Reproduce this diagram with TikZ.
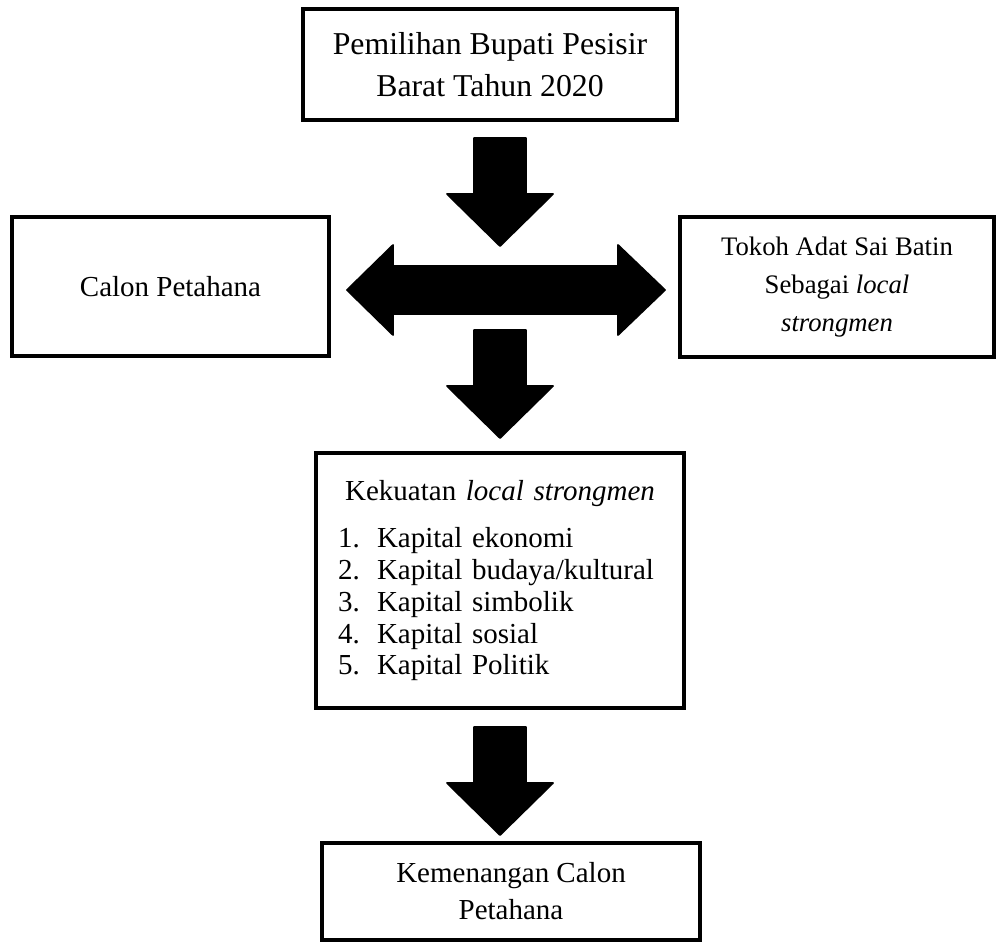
\documentclass[tikz,border=0pt]{standalone}
\usepackage{fontspec}
\setmainfont{Liberation Serif}
\usepackage{tikz}

\begin{document}
\begin{tikzpicture}[x=0.02cm, y=-0.02cm,
    box/.style={rectangle, draw, line width=2.6pt, inner sep=0pt, align=center},
    blockarrow/.style={fill=black, draw=black, line width=1pt, line join=round}]
        \useasboundingbox (0,0) rectangle (996,942);

        % Boxes
        \node[box, minimum width=7.48cm, minimum height=2.22cm, font=\fontsize{18.1}{23.8}\selectfont] (pilkada) at (490,64.5) {Pemilihan Bupati Pesisir\\Barat Tahun 2020};
        \node[box, minimum width=6.34cm, minimum height=2.78cm, font=\fontsize{16.5}{19}\selectfont] (petahana) at (170.5,286.5) {Calon Petahana};
        \node[box, minimum width=6.28cm, minimum height=2.80cm, font=\fontsize{15.2}{21.5}\selectfont] (tokoh) at (837,287) {Tokoh Adat Sai Batin\\Sebagai \textit{local}\\\textit{strongmen}};
        \node[box, minimum width=7.36cm, minimum height=5.10cm, text width=7.36cm, align=left, font=\fontsize{16.5}{18.1}\selectfont] (kekuatan) at (500,580.5) {%
            \makebox[7.36cm]{Kekuatan \textit{local strongmen}}\\[9pt]
            \hspace*{0.44cm}\makebox[0.78cm][l]{1.}Kapital ekonomi\\
            \hspace*{0.44cm}\makebox[0.78cm][l]{2.}Kapital budaya/kultural\\
            \hspace*{0.44cm}\makebox[0.78cm][l]{3.}Kapital simbolik\\
            \hspace*{0.44cm}\makebox[0.78cm][l]{4.}Kapital sosial\\
            \hspace*{0.44cm}\makebox[0.78cm][l]{5.}Kapital Politik};
        \node[box, minimum width=7.56cm, minimum height=1.94cm, font=\fontsize{16.5}{21}\selectfont] (menang) at (511,891.5) {Kemenangan Calon\\Petahana};

        % Block arrows
        \draw[blockarrow] (474,138) -- (526,138) -- (526,194) -- (553,194) -- (500,246) -- (447,194) -- (474,194) -- cycle;
        \draw[blockarrow] (347,290) -- (393,245) -- (393,266) -- (618,266) -- (618,245) -- (665,290)
            -- (618,335) -- (618,314) -- (393,314) -- (393,335) -- cycle;
        \draw[blockarrow] (474,330) -- (526,330) -- (526,386) -- (553,386) -- (500,438) -- (447,386) -- (474,386) -- cycle;
        \draw[blockarrow] (474,727) -- (526,727) -- (526,783) -- (553,783) -- (500,835) -- (447,783) -- (474,783) -- cycle;

    \end{tikzpicture}
\end{document}
